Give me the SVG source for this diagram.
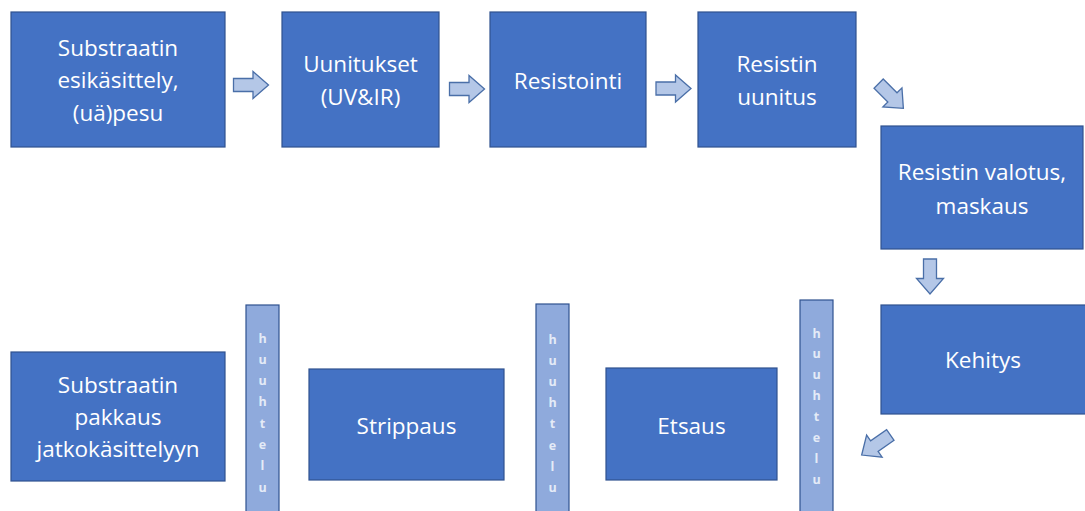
<svg xmlns="http://www.w3.org/2000/svg" width="1085" height="511" viewBox="0 0 1085 511">
<style>
.box{fill:#4472C4;stroke:#2F528F;stroke-width:1.2}
.bar{fill:#8FAADC;stroke:#2F528F;stroke-width:1.2}
.arr{fill:#B4C7E7;stroke:#4A6FA8;stroke-width:1.3;stroke-linejoin:miter}
.t{font-family:"Open Sans","Liberation Sans",sans-serif;font-size:22.5px;fill:#FFFFFF;text-anchor:middle;dominant-baseline:central}
.v{font-family:"Open Sans","Liberation Sans",sans-serif;font-size:12.5px;font-weight:bold;fill:#E4EBF7;text-anchor:middle;dominant-baseline:central}
</style>
<defs>
<path id="ba" d="M-17.5,-6.5 H2 V-13.5 L17.5,0 L2,13.5 V6.5 H-17.5 Z"/>
</defs>
<rect width="1085" height="511" fill="#FFFFFF"/>
<g id="n1"><rect class="box" x="11" y="12" width="214" height="135"/>
<text class="t" x="118" y="47">Substraatin</text><text class="t" x="118" y="79.5">esikäsittely,</text><text class="t" x="118" y="112">(uä)pesu</text></g>
<g id="n2"><rect class="box" x="282" y="12" width="157" height="135"/>
<text class="t" x="360.5" y="63">Uunitukset</text><text class="t" x="360.5" y="96">(UV&amp;IR)</text></g>
<g id="n3"><rect class="box" x="490" y="12" width="156" height="135"/>
<text class="t" x="568" y="80">Resistointi</text></g>
<g id="n4"><rect class="box" x="698" y="12" width="158" height="135"/>
<text class="t" x="777" y="63">Resistin</text><text class="t" x="777" y="96">uunitus</text></g>
<g id="n5"><rect class="box" x="881" y="126" width="202" height="123"/>
<text class="t" x="982" y="171">Resistin valotus,</text><text class="t" x="982" y="205">maskaus</text></g>
<g id="n6"><rect class="box" x="881" y="305" width="205" height="109"/>
<text class="t" x="983" y="359">Kehitys</text></g>
<g id="n7"><rect class="box" x="606" y="368" width="171" height="112"/>
<text class="t" x="691.5" y="425">Etsaus</text></g>
<g id="n8"><rect class="box" x="309" y="369" width="195" height="111"/>
<text class="t" x="406.5" y="425">Strippaus</text></g>
<g id="n9"><rect class="box" x="11" y="352" width="214" height="129"/>
<text class="t" x="118" y="384">Substraatin</text><text class="t" x="118" y="416">pakkaus</text><text class="t" x="118" y="448">jatkokäsittelyyn</text></g>
<g id="b1"><rect class="bar" x="246" y="305" width="33" height="215"/>
<text class="v" x="262.5" y="338">h</text><text class="v" x="262.5" y="359.3">u</text><text class="v" x="262.5" y="380.6">u</text><text class="v" x="262.5" y="401.9">h</text><text class="v" x="262.5" y="423.2">t</text><text class="v" x="262.5" y="444.5">e</text><text class="v" x="262.5" y="465.8">l</text><text class="v" x="262.5" y="487.1">u</text></g>
<g id="b2"><rect class="bar" x="536" y="304" width="33" height="215"/>
<text class="v" x="552.5" y="339">h</text><text class="v" x="552.5" y="360.2">u</text><text class="v" x="552.5" y="381.4">u</text><text class="v" x="552.5" y="402.6">h</text><text class="v" x="552.5" y="423.8">t</text><text class="v" x="552.5" y="445">e</text><text class="v" x="552.5" y="466.2">l</text><text class="v" x="552.5" y="487.4">u</text></g>
<g id="b3"><rect class="bar" x="800" y="300" width="33" height="220"/>
<text class="v" x="816.5" y="333">h</text><text class="v" x="816.5" y="353.9">u</text><text class="v" x="816.5" y="374.8">u</text><text class="v" x="816.5" y="395.7">h</text><text class="v" x="816.5" y="416.6">t</text><text class="v" x="816.5" y="437.5">e</text><text class="v" x="816.5" y="458.4">l</text><text class="v" x="816.5" y="479.3">u</text></g>
<g id="connectors">
<use href="#ba" class="arr" transform="translate(251,85)"/>
<use href="#ba" class="arr" transform="translate(467,89)"/>
<use href="#ba" class="arr" transform="translate(673.5,88.5)"/>
<use href="#ba" class="arr" transform="translate(891,96) rotate(45)"/>
<use href="#ba" class="arr" transform="translate(930,276.5) rotate(90)"/>
<use href="#ba" class="arr" transform="translate(876,445) rotate(145)"/>
</g>
</svg>
